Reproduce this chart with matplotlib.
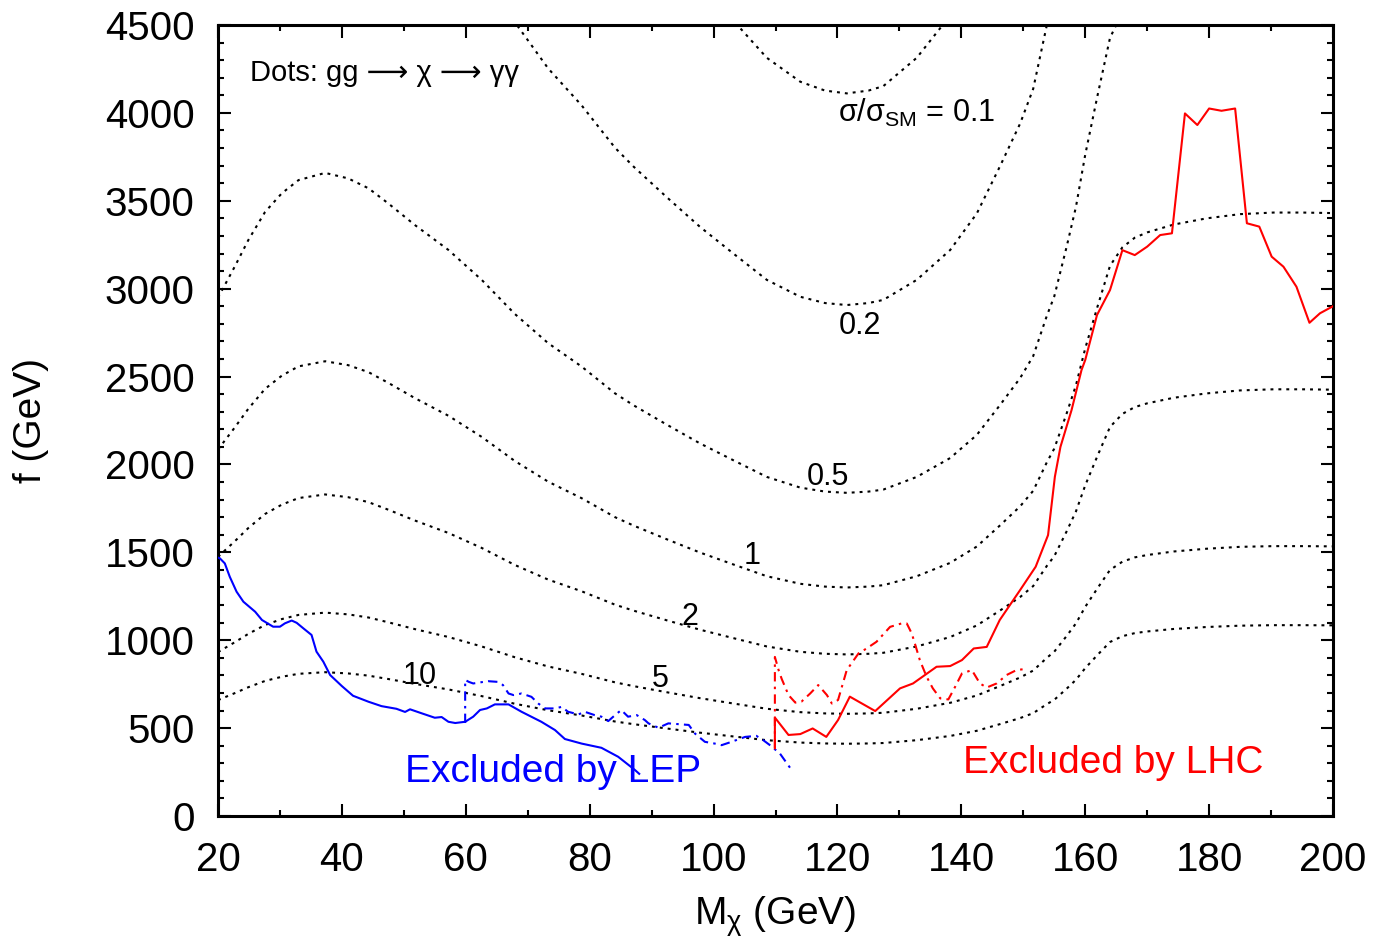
import numpy as np
import matplotlib
matplotlib.use('Agg')
import matplotlib.pyplot as plt
from matplotlib.ticker import MultipleLocator

plt.rcParams['font.family'] = ['Liberation Sans', 'DejaVu Sans']
plt.rcParams['mathtext.fontset'] = 'custom'
plt.rcParams['mathtext.rm'] = 'Liberation Sans'
plt.rcParams['mathtext.it'] = 'Liberation Sans:italic'
plt.rcParams['mathtext.default'] = 'rm'

# ---- contour of sigma/sigma_SM = 1 (f in GeV vs M_chi in GeV); other contours scale as f ~ 1/sqrt(level)
M_base = [20, 22.7, 24.9, 27.6, 30.3, 33.0, 37.3, 41.0, 44.3, 47.5, 51.8, 57.2, 62.6, 67.9,
          73.3, 78.7, 84.1, 87.1, 92.4, 97.8, 103.2, 108.6, 114.0, 118.0, 121.5, 125.0,
          127.4, 132.8, 138.2, 142.5, 146.3, 149.5, 151.6, 153.8, 155.0, 157.0, 158.5,
          160.0, 162.0, 164.0, 166.0, 168.0, 170.0, 174.3, 179.6, 185.0, 190.4, 195.0, 200.0]
F_base = [2085, 2210, 2317, 2430, 2505, 2558, 2587, 2565, 2525, 2464, 2377, 2277, 2156, 2020,
          1902, 1808, 1700, 1652, 1575, 1499, 1431, 1364, 1321, 1305, 1300, 1305,
          1313, 1364, 1440, 1533, 1655, 1762, 1850, 2012, 2090, 2290, 2450,
          2660, 2900, 3130, 3235, 3290, 3320, 3365, 3400, 3424, 3433, 3433, 3430]
levels = [0.1, 0.2, 0.5, 1, 2, 5, 10]
level_labels = ['σ/σ$_{\\mathrm{SM}}$ = 0.1', '0.2', '0.5', '1', '2', '5', '10']
label_M = [120.1, 123.6, 118.5, 106.2, 96.2, 91.4, 52.6]
label_f = [4000, 2790, 1930, 1480, 1132, 779, 796]

# ---- LEP exclusion (blue)
lep_M = [20.0, 20.3, 21.1, 21.9, 23.0, 24.1, 26.0, 27.1, 28.9, 30.0, 30.8, 31.9, 32.7, 33.8,
         35.1, 35.9, 37.0, 38.1, 40.0, 41.8, 44.3, 46.4, 48.8, 50.2, 51.0, 52.9, 55.0, 56.1,
         57.2, 58.3, 59.9, 61.2, 62.3, 63.4, 64.7, 66.9, 69.0, 72.2, 74.4, 76.0, 78.7, 81.9,
         84.6, 87.3, 88.0]
lep_f = [1470, 1466, 1437, 1361, 1276, 1219, 1162, 1115, 1077, 1077, 1096, 1112, 1099, 1067,
         1030, 935, 878, 802, 739, 684, 650, 625, 610, 592, 607, 584, 559, 563,
         536, 529, 536, 565, 603, 612, 635, 635, 593, 536, 489, 438, 412, 388,
         337, 262, 240]
lep2_M = [59.9, 59.9, 60.5, 61.2, 63.6, 65.2, 66.0, 66.9, 67.7, 69.0, 70.6, 71.7, 72.8, 74.4,
          75.5, 76.5, 78.2, 79.2, 80.8, 81.9, 83.0, 84.1, 85.1, 86.2, 87.6, 88.9, 89.5, 91.1,
          92.7, 96.0, 97.0, 98.6, 100.2, 101.3, 102.9, 105.1, 106.9, 108.0, 109.1, 110.7, 112.8]
lep2_f = [529, 774, 763, 754, 767, 763, 745, 697, 688, 697, 678, 640, 612, 612,
          621, 593, 578, 593, 574, 565, 540, 574, 603, 565, 574, 546, 527, 502,
          527, 518, 469, 422, 412, 403, 422, 450, 456, 432, 403, 356, 252]

# ---- LHC exclusion (red)
lhc_M = [109.9, 109.9, 112.1, 114.0, 116.0, 118.2, 120.1, 122.0, 126.1, 130.1, 132.2, 136.0,
         138.2, 140.1, 142.0, 144.1, 146.2, 149.5, 152.0, 154.0, 155.1, 156.0, 157.8, 159.4,
         160.0, 161.9, 164.0, 166.0, 168.0, 170.0, 172.1, 174.0, 176.1, 178.1, 180.0, 182.0,
         184.2, 186.1, 188.1, 190.1, 192.0, 194.1, 196.2, 197.9, 200.0]
lhc_f = [385, 560, 461, 466, 498, 450, 546, 679, 597, 726, 754, 849,
         853, 887, 953, 962, 1115, 1286, 1418, 1598, 1930, 2100, 2310, 2537,
         2594, 2850, 2992, 3219, 3191, 3239, 3305, 3315, 3997, 3931, 4025, 4012,
         4025, 3372, 3353, 3182, 3125, 3011, 2806, 2860, 2900]
lhc2_M = [109.9, 109.9, 110.5, 111.0, 112.1, 113.2, 114.2, 115.6, 116.9, 118.3, 119.1, 120.1,
          121.5, 123.4, 124.7, 126.3, 128.5, 130.3, 131.2, 132.0, 132.5, 133.3, 134.4, 135.4,
          136.6, 137.9, 139.0, 140.1, 141.7, 143.0, 144.1, 145.7, 147.3, 148.9, 150.0]
lhc2_f = [385, 905, 830, 780, 688, 645, 651, 697, 745, 688, 640, 660,
          830, 925, 953, 991, 1076, 1095, 1095, 1038, 981, 887, 792, 726,
          669, 663, 735, 811, 830, 754, 731, 754, 802, 830, 835]

x_ticks = list(range(20, 201, 20))
y_ticks = list(range(0, 4501, 500))

fig = plt.figure(figsize=(13.75, 9.44), dpi=100)
ax = fig.add_axes([218 / 1375, 1 - 816 / 944, (1333 - 218) / 1375, (816 - 25) / 944])

Mb = np.array(M_base, dtype=float)
Fb = np.array(F_base, dtype=float)
for lev in levels:
    ax.plot(Mb, Fb / np.sqrt(lev), color='black', lw=1.5, ls=(0, (1.4, 2.4)), zorder=2)

dashdot = (0, (4.5, 2.5, 1.2, 2.5))
ax.plot(lep_M, lep_f, color='#0000ff', lw=1.5, zorder=3)
ax.plot(lep2_M, lep2_f, color='#0000ff', lw=1.5, ls=dashdot, zorder=3)
ax.plot(lhc_M, lhc_f, color='#ff0000', lw=1.5, zorder=3)
ax.plot(lhc2_M, lhc2_f, color='#ff0000', lw=1.5, ls=dashdot, zorder=3)

for lab, xm, yf in zip(level_labels, label_M, label_f):
    ax.text(xm, yf, lab, fontsize=22, ha='left' if lab.startswith('σ') else 'center',
            va='center', zorder=4)

ax.text(25.2, 4227, 'Dots: gg ⟶ χ ⟶ γγ', fontsize=21, ha='left', va='center')
ax.text(50.2, 250, 'Excluded by LEP', fontsize=28, color='#0000ff', ha='left', va='center')
ax.text(140.3, 302, 'Excluded by LHC', fontsize=28, color='#ff0000', ha='left', va='center')

ax.set_xlim(20, 200)
ax.set_ylim(0, 4500)
ax.set_xticks(x_ticks)
ax.set_yticks(y_ticks)
ax.xaxis.set_minor_locator(MultipleLocator(10))
ax.yaxis.set_minor_locator(MultipleLocator(100))
ax.tick_params(which='both', direction='in', top=True, right=True, labelsize=29, width=1.5)
ax.tick_params(which='major', length=9)
ax.tick_params(axis='x', which='major', pad=18)
ax.tick_params(axis='y', which='major', pad=17)
ax.tick_params(which='minor', length=4.5)
for s in ax.spines.values():
    s.set_linewidth(2.2)

ax.set_xlabel('M$_{\\mathrm{χ}}$ (GeV)', fontsize=28, labelpad=11)
ax.set_ylabel('f (GeV)', fontsize=28, labelpad=40)

fig.savefig('out.png', dpi=100)
